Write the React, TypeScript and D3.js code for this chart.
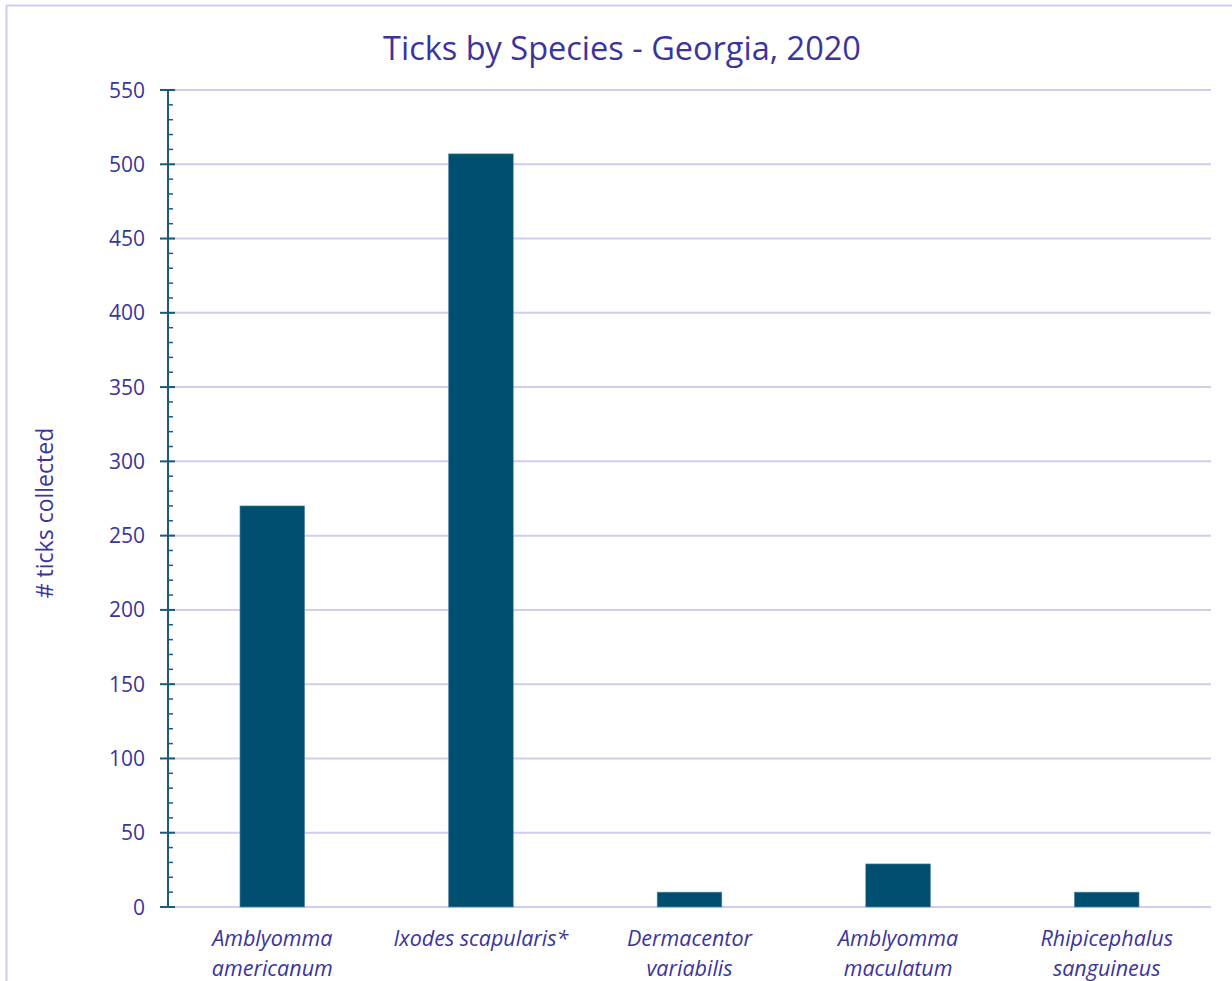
import React from "react";
import * as d3 from "d3";

const categories: string[][] = [
  ["Amblyomma", "americanum"],
  ["Ixodes scapularis*"],
  ["Dermacentor", "variabilis"],
  ["Amblyomma", "maculatum"],
  ["Rhipicephalus", "sanguineus"],
];
const values: number[] = [270, 507, 10, 29, 10];
const yTicks: number[] = [0, 50, 100, 150, 200, 250, 300, 350, 400, 450, 500, 550];
const minorTicks: number[] = d3.range(0, 551, 10);
const title = "Ticks by Species - Georgia, 2020";
const yLabel = "# ticks collected";

const W = 1232;
const H = 981;
const left = 168;
const right = 1211;
const top = 90;
const bottom = 907;
const textColor = "#3B349E";
const axisColor = "#1B5A78";
const gridColor = "#D2CDEE";
const barColor = "#004F71";
const font = "'Open Sans', 'Noto Sans', sans-serif";

export default function App() {
  const x = d3
    .scaleBand<number>()
    .domain(categories.map((_, i) => i))
    .range([left, right])
    .paddingInner(0.69)
    .paddingOuter(0.345);
  const y = d3.scaleLinear().domain([0, 550]).range([bottom, top]);
  const band = d3.scaleBand<number>().domain(categories.map((_, i) => i)).range([left, right]);

  return (
    <svg width={W} height={H} style={{ position: "absolute", left: 0, top: 0 }}>
      <rect x={0} y={0} width={W} height={H} fill="#fff" />
      <line x1={6.5} y1={5.5} x2={6.5} y2={H} stroke={gridColor} strokeWidth={2} />
      <line x1={6} y1={5.5} x2={W} y2={5.5} stroke={gridColor} strokeWidth={2} />
      <text
        x={622}
        y={60}
        textAnchor="middle"
        fontFamily={font}
        fontSize={32.5}
        fill={textColor}
      >
        {title}
      </text>
      {yTicks.map((t) => (
        <line key={"g" + t} x1={left} x2={right} y1={y(t)} y2={y(t)} stroke={gridColor} strokeWidth={2} />
      ))}
      {values.map((v, i) => (
        <rect
          key={"b" + i}
          x={x(i)}
          y={y(v)}
          width={x.bandwidth()}
          height={y(0) - y(v)}
          fill={barColor}
          stroke="#5E8CA6"
          strokeWidth={0.6}
        />
      ))}
      <line x1={left} x2={left} y1={y(550)} y2={y(0)} stroke={axisColor} strokeWidth={2} />
      {minorTicks
        .filter((t) => t % 50 !== 0)
        .map((t) => (
          <line key={"m" + t} x1={left} x2={left + 5} y1={y(t)} y2={y(t)} stroke={axisColor} strokeWidth={1.5} />
        ))}
      {yTicks.map((t) => (
        <g key={"t" + t}>
          <line x1={left - 8} x2={left + 7} y1={y(t)} y2={y(t)} stroke={axisColor} strokeWidth={2} />
          <text
            x={145}
            y={y(t)}
            dy="0.36em"
            textAnchor="end"
            fontFamily={font}
            fontSize={21}
            fill={textColor}
          >
            {t}
          </text>
        </g>
      ))}
      {categories.map((lines, i) => (
        <text
          key={"c" + i}
          x={(band(i) as number) + band.bandwidth() / 2}
          textAnchor="middle"
          fontFamily={font}
          fontSize={21.5}
          fontStyle="italic"
          fill={textColor}
        >
          {lines.map((l, j) => (
            <tspan key={j} x={(band(i) as number) + band.bandwidth() / 2} y={946 + j * 30}>
              {l}
            </tspan>
          ))}
        </text>
      ))}
      <text
        transform={`translate(53, 513) rotate(-90)`}
        textAnchor="middle"
        fontFamily={font}
        fontSize={23}
        fill={textColor}
      >
        {yLabel}
      </text>
    </svg>
  );
}
